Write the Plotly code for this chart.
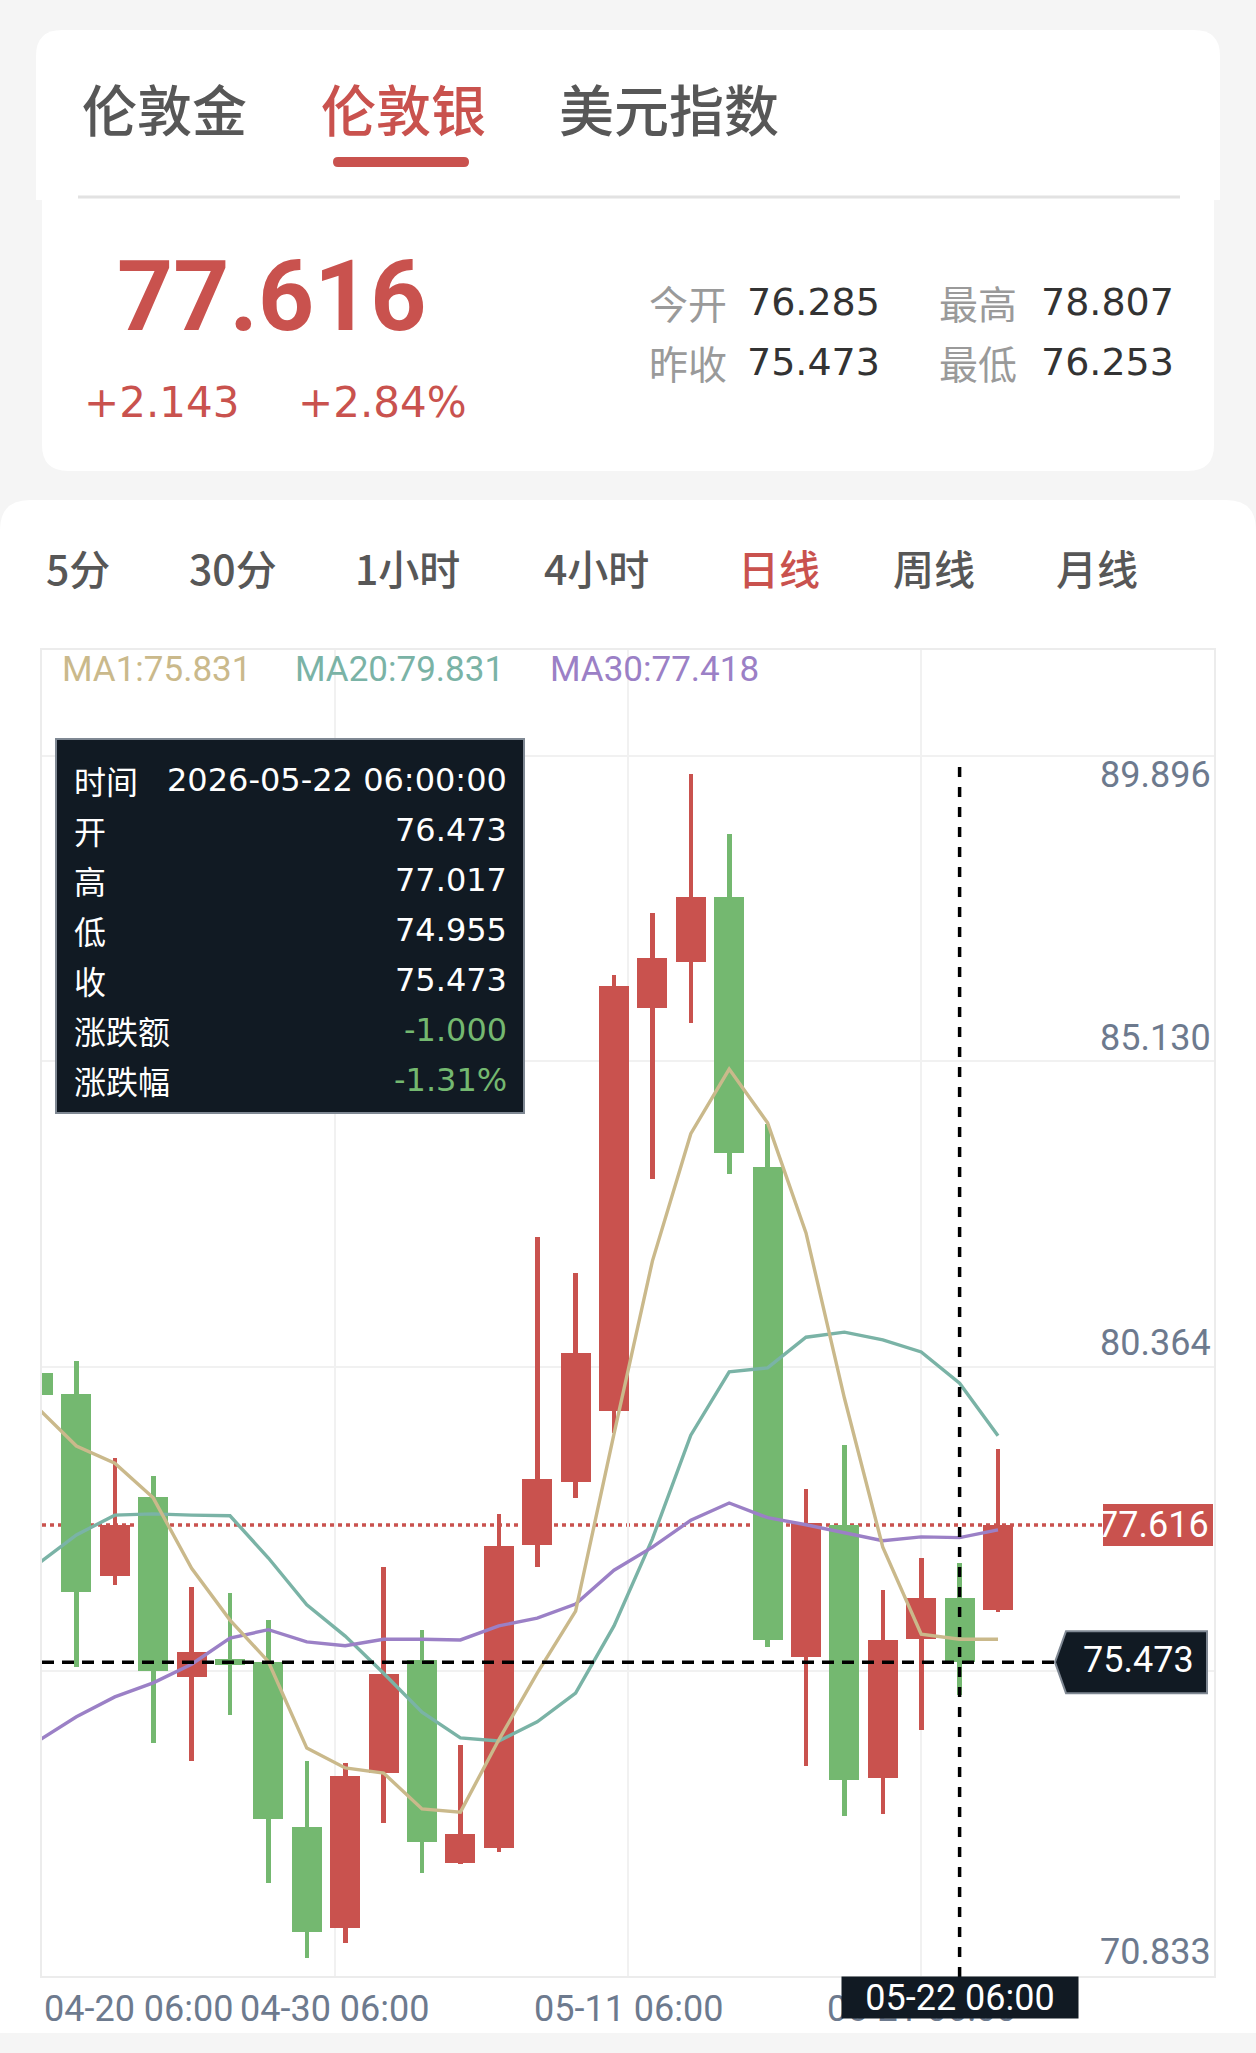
import plotly.graph_objects as go

W, H = 1256, 2053

# ---------------- data ----------------
dates = ["04-20", "04-21", "04-22", "04-23", "04-24", "04-27", "04-28", "04-29", "04-30",
         "05-01", "05-04", "05-05", "05-06", "05-07", "05-08", "05-11", "05-12", "05-13",
         "05-14", "05-15", "05-18", "05-19", "05-20", "05-21", "05-22", "05-25"]
opens = [79.99, 79.66, 76.82, 78.05, 75.24, 75.52, 75.48, 72.90, 71.32, 73.74, 75.51, 72.34, 72.57,
         77.30, 78.29, 79.40, 85.69, 86.41, 87.43, 83.21, 75.55, 77.62, 73.66, 75.83, 76.473, 76.285]
highs = [80.27, 80.18, 78.66, 78.38, 76.65, 76.55, 76.13, 73.93, 73.90, 76.96, 75.98, 74.18, 77.79,
         82.12, 81.55, 86.21, 87.18, 89.35, 88.41, 83.88, 78.18, 78.87, 76.60, 77.10, 77.017, 78.807]
lows = [79.49, 75.40, 76.68, 74.21, 73.93, 74.65, 72.02, 70.85, 71.09, 72.96, 72.18, 72.32, 72.51,
        76.96, 78.04, 79.05, 83.02, 85.46, 83.10, 75.71, 73.85, 73.07, 73.10, 74.41, 74.955, 76.253]
closes = [79.65, 76.57, 77.62, 75.33, 75.63, 75.43, 73.02, 71.26, 73.69, 75.29, 72.66, 72.79, 77.29,
          78.34, 80.30, 86.04, 86.48, 87.43, 83.43, 75.82, 77.65, 73.63, 75.82, 76.473, 75.473, 77.616]
ma1 = [79.44, 78.85, 78.58, 78.04, 76.94, 76.13, 75.48, 74.13, 73.82, 73.74, 73.18, 73.13, 74.26,
       75.30, 76.27, 79.04, 81.74, 83.73, 84.74, 83.90, 82.18, 79.60, 77.27, 75.91, 75.831, 75.83]
ma20 = [77.01, 77.46, 77.77, 77.79, 77.77, 77.76, 77.10, 76.37, 75.88, 75.30, 74.69, 74.29, 74.24,
        74.54, 74.99, 76.04, 77.40, 79.02, 80.01, 80.07, 80.55, 80.63, 80.51, 80.32, 79.831, 79.01]
ma30 = [74.24, 74.62, 74.93, 75.15, 75.44, 75.85, 75.98, 75.79, 75.73, 75.83, 75.83, 75.82, 76.04,
        76.16, 76.38, 76.91, 77.27, 77.69, 77.96, 77.73, 77.62, 77.49, 77.37, 77.43, 77.418, 77.54]

x_tick_labels = ["04-20 06:00", "04-30 06:00", "05-11 06:00", "05-21 06:00"]
x_tick_pos = [-0.896, 6.734, 14.365, 21.995]
y_tick_labels = ["89.896", "85.130", "80.364", "70.833"]
y_grid = [89.632, 84.866, 80.085, 75.335]

symbol_tabs = ["伦敦金", "伦敦银", "美元指数"]
period_tabs = ["5分", "30分", "1小时", "4小时", "日线", "周线", "月线"]
sel_date = "05-22"

# ---------------- derived ----------------
xs = [i - 1 for i in range(len(dates))]
sel = dates.index(sel_date)
price = closes[-1]
prev_close = closes[-2]
chg = price - prev_close
pct = chg / prev_close * 100
s_o, s_h, s_l, s_c = opens[sel], highs[sel], lows[sel], closes[sel]
s_chg = s_c - closes[sel - 1]
s_pct = s_chg / closes[sel - 1] * 100

RED = "#c9524e"
GREEN = "#74b870"
DARK = "#111a23"
AX_TXT = "#6d7a8e"
TAN = "#cab98b"
TEAL = "#7ab3a6"
PURPLE = "#9b80c6"
CJK = "Noto Sans CJK SC"
NUM = "Roboto"
DV = "DejaVu Sans"


def X(px):
    return px / W


def Y(py):
    return 1 - py / H


def rrect(x0, y0, x1, y1, r=(0, 0, 0, 0)):
    tl, tr, br, bl = r

    def P(x, y):
        return f"{x / W:.6f},{1 - y / H:.6f}"
    return (f"M {P(x0 + tl, y0)} L {P(x1 - tr, y0)} Q {P(x1, y0)} {P(x1, y0 + tr)} "
            f"L {P(x1, y1 - br)} Q {P(x1, y1)} {P(x1 - br, y1)} L {P(x0 + bl, y1)} "
            f"Q {P(x0, y1)} {P(x0, y1 - bl)} L {P(x0, y0 + tl)} Q {P(x0, y0)} {P(x0 + tl, y0)} Z")


colors = [RED if c >= o else GREEN for o, c in zip(opens, closes)]

fig = go.Figure()
fig.add_trace(go.Bar(x=xs, base=lows, y=[h - l for h, l in zip(highs, lows)], width=0.12,
                     marker=dict(color=colors, line=dict(width=0)), hoverinfo="skip"))
fig.add_trace(go.Bar(x=xs, base=[min(o, c) for o, c in zip(opens, closes)],
                     y=[max(abs(c - o), 0.03) for o, c in zip(opens, closes)], width=0.78,
                     marker=dict(color=colors, line=dict(width=0)), hoverinfo="skip"))
for vals, col in ((ma20, TEAL), (ma30, PURPLE), (ma1, TAN)):
    fig.add_trace(go.Scatter(x=xs, y=vals, mode="lines", line=dict(color=col, width=3.4),
                             hoverinfo="skip"))

shapes = [
    dict(type="path", path=rrect(0, 500, W, 2033, (30, 30, 0, 0)), xref="paper", yref="paper",
         fillcolor="white", line=dict(width=0), layer="below"),
    dict(type="path", path=rrect(36, 30, 1220, 200, (26, 26, 0, 0)), xref="paper", yref="paper",
         fillcolor="white", line=dict(width=0), layer="below"),
    dict(type="path", path=rrect(42, 197, 1214, 471, (0, 0, 26, 26)), xref="paper", yref="paper",
         fillcolor="white", line=dict(width=0), layer="below"),
    dict(type="line", xref="paper", yref="paper", x0=X(78), x1=X(1180), y0=Y(197), y1=Y(197),
         line=dict(color="#e2e2e2", width=3), layer="below"),
    dict(type="path", path=rrect(333, 157, 469, 167, (5, 5, 5, 5)), xref="paper", yref="paper",
         fillcolor=RED, line=dict(width=0), layer="below"),
    # current price dotted line
    dict(type="line", xref="paper", yref="y", x0=X(42), x1=X(1103), y0=price, y1=price,
         line=dict(color=RED, width=3.5, dash="4px,4px"), layer="below"),
    # crosshair
    dict(type="line", xref="x", yref="paper", x0=xs[sel], x1=xs[sel], y0=Y(1977), y1=Y(757),
         line=dict(color="black", width=3.5, dash="10px,10px"), layer="above"),
    dict(type="line", xref="paper", yref="y", x0=X(42), x1=X(1055), y0=s_c, y1=s_c,
         line=dict(color="black", width=3.5, dash="12px,8px"), layer="above"),
    # close tag (pentagon)
    dict(type="path", xref="paper", yref="y", ysizemode="pixel", yanchor=s_c,
         path=f"M {X(1055)},0 L {X(1066)},31 L {X(1207)},31 L {X(1207)},-31 L {X(1066)},-31 Z",
         fillcolor=DARK, line=dict(color="#7f8893", width=2), layer="above"),
    # price tag
    dict(type="rect", xref="paper", yref="y", ysizemode="pixel", yanchor=price,
         x0=X(1103), x1=X(1213), y0=-21, y1=21, fillcolor=RED, line=dict(width=0), layer="above"),
    # tooltip box
    dict(type="rect", xref="paper", yref="paper", x0=X(56), x1=X(524), y0=Y(1113), y1=Y(739),
         fillcolor=DARK, line=dict(color="#7f8893", width=2), layer="above"),
]

ann = []


def txt(x, y, s, size, color, family, anchor="left", weight="normal", xref="paper", yref="paper", **kw):
    d = dict(x=x, y=y, xref=xref, yref=yref, text=s, showarrow=False, xanchor=anchor,
             yanchor="middle", font=dict(size=size, color=color, family=family, weight=weight))
    d.update(kw)
    ann.append(d)


# symbol tabs
for s, xl in zip(symbol_tabs, [80, 319, 557]):
    txt(X(xl), Y(107), s, 55, RED if s == "伦敦银" else "#575757", CJK, weight=500)

# header price
txt(X(115), Y(297), f"{price:.3f}", 98, RED, NUM, weight=700)
txt(X(82), Y(402), f"{chg:+.3f}", 42, RED, DV)
txt(X(296), Y(402), f"{pct:+.2f}%", 42, RED, DV)
for lab, val, xl, xv, yy in (("今开", opens[-1], 647, 745, 302), ("最高", highs[-1], 937, 1039, 302),
                             ("昨收", prev_close, 647, 745, 362), ("最低", lows[-1], 937, 1039, 362)):
    txt(X(xl), Y(yy), lab, 39, "#9a9a9a", CJK)
    txt(X(xv), Y(yy), f"{val:.3f}", 38, "#333333", DV)

# period tabs
for s, xl in zip(period_tabs, [44, 187, 353, 542, 736, 891, 1054]):
    txt(X(xl), Y(567), s, 41, RED if s == "日线" else "#575757", CJK, weight=500)

# MA legend
txt(X(60), Y(670), f"MA1:{ma1[sel]:.3f}", 35, TAN, NUM)
txt(X(293), Y(670), f"MA20:{ma20[sel]:.3f}", 35, TEAL, NUM)
txt(X(548), Y(670), f"MA30:{ma30[sel]:.3f}", 35, PURPLE, NUM)

# y labels
for s, yy in zip(y_tick_labels, [775, 1038, 1343, 1952]):
    txt(X(1213), Y(yy), s, 36, AX_TXT, NUM, anchor="right")

# x labels
for i, (s, xp) in enumerate(zip(x_tick_labels, x_tick_pos)):
    txt(xp, Y(2009), s, 36, AX_TXT, NUM, anchor="left" if i == 0 else "center", xref="x")

# tooltip
rows = [("时间", f"2026-{sel_date} 06:00:00", "white"),
        ("开", f"{s_o:.3f}", "white"),
        ("高", f"{s_h:.3f}", "white"),
        ("低", f"{s_l:.3f}", "white"),
        ("收", f"{s_c:.3f}", "white"),
        ("涨跌额", f"{s_chg:.3f}", GREEN),
        ("涨跌幅", f"{s_pct:.2f}%", GREEN)]
for j, (lab, val, col) in enumerate(rows):
    yy = 780 + 50 * j
    txt(X(72), Y(yy), lab, 32, "white", CJK)
    txt(X(509), Y(yy), val, 32, col, DV, anchor="right")

# tags text
txt(X(1211), price, f"{price:.3f}", 36, "white", NUM, anchor="right", yref="y")
txt(X(1138), s_c, f"{s_c:.3f}", 36, "white", NUM, anchor="center", yref="y", yshift=2)
# crosshair date label
txt(xs[sel], Y(1997.5), f"{sel_date} 06:00", 36, "white", NUM, anchor="center", xref="x",
    bgcolor=DARK, width=236, height=41, borderpad=0)

fig.update_layout(
    width=W, height=H, margin=dict(l=0, r=0, t=0, b=0, pad=0),
    paper_bgcolor="#f5f5f5", plot_bgcolor="rgba(0,0,0,0)",
    barmode="overlay", bargap=0, showlegend=False,
    xaxis=dict(domain=[X(42), X(1214)], range=[-0.896, 29.625], tickvals=x_tick_pos[1:],
               showticklabels=False, ticks="", showgrid=True, gridcolor="#f1f1f1", gridwidth=2,
               zeroline=False, showline=True, mirror=True, linecolor="#ececec", linewidth=2,
               fixedrange=True),
    yaxis=dict(domain=[Y(1976), Y(650)], range=[70.569, 91.288], tickvals=y_grid,
               showticklabels=False, ticks="", showgrid=True, gridcolor="#f1f1f1", gridwidth=2,
               zeroline=False, showline=True, mirror=True, linecolor="#ececec", linewidth=2,
               fixedrange=True),
    shapes=shapes, annotations=ann,
)

fig.write_html("out.html", config={"displayModeBar": False})
